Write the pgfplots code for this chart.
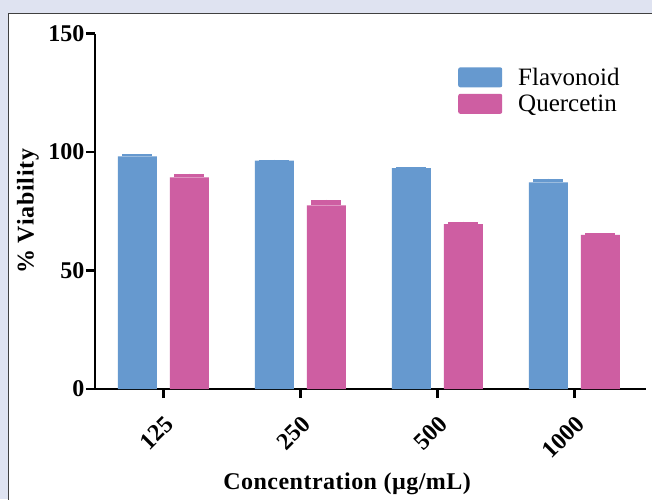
\documentclass[border=0pt]{standalone}
\usepackage{fontspec}
\setmainfont{Liberation Serif}
\usepackage{pgfplots}
\pgfplotsset{compat=1.18}
\definecolor{flav}{RGB}{102,153,207}
\definecolor{quer}{RGB}{206,94,162}
\definecolor{frame}{RGB}{223,227,241}
\begin{document}
\begin{tikzpicture}
\useasboundingbox (0,0) rectangle (652pt,499pt);
\fill[frame] (0,0) rectangle (652pt,499pt);
\begin{scope}
\clip (0,0) rectangle (652pt,499pt);
\filldraw[fill=white, draw=black!75, line width=1pt] (8pt,-10pt) rectangle (670pt,485pt);
\end{scope}
\begin{axis}[
  at={(95pt,110pt)}, anchor=south west,
  scale only axis, width=550.5pt, height=355.5pt,
  xmin=-0.5, xmax=3.52, ymin=0, ymax=150,
  axis x line=bottom, axis y line=left,
  axis line style={-, line width=2.5pt},
  xtick={0,1,2,3}, xticklabels={125,250,500,1000},
  ytick={0,50,100,150},
  tick align=outside, major tick length=9pt,
  tick style={line width=2.5pt, black},
  /pgf/number format/assume math mode=true,
  tick label style={font=\bfseries\fontsize{24}{26}\selectfont},
  y tick label style={xshift=2pt},
  x tick label style={rotate=45, anchor=north east, xshift=-8pt, yshift=-8pt},
  ybar, bar width=39pt,
  ylabel={\% Viability},
  xlabel={Concentration (µg/mL)},
  ylabel style={font=\bfseries\fontsize{24}{26}\selectfont\addfontfeature{LetterSpace=3},
    at={(axis description cs:-0.122,0.5)}, anchor=center},
  xlabel style={font=\bfseries\fontsize{24}{26}\selectfont\addfontfeature{LetterSpace=2},
    at={(axis description cs:0.458,-0.284)}, anchor=base},
  legend style={draw=none, fill=none, at={(axis description cs:0.654,0.915)}, anchor=north west,
    font=\fontsize{25}{27}\selectfont, row sep=4pt},
  legend cell align=left,
  error bars/y dir=plus, error bars/y explicit,
]
\addplot[fill=flav, draw=none, bar shift=-26pt,
  error bars/error bar style={flav, line width=30pt},
  error bars/error mark=none,
  legend image code/.code={\fill[flav, rounded corners=2pt] (0pt,-10pt) rectangle (44pt,10pt);}]
  coordinates {(0,98.2) +- (0,0.8) (1,96.4) +- (0,0.4) (2,93.2) +- (0,0.4) (3,87.2) +- (0,1.6)};
\addlegendentry{\hspace{14pt}Flavonoid}
\addplot[fill=quer, draw=none, bar shift=26pt,
  error bars/error bar style={quer, line width=30pt},
  error bars/error mark=none,
  legend image code/.code={\fill[quer, rounded corners=2pt] (0pt,-10pt) rectangle (44pt,10pt);}]
  coordinates {(0,89.3) +- (0,1.6) (1,77.5) +- (0,2.4) (2,69.6) +- (0,1.0) (3,65.0) +- (0,0.7)};
\addlegendentry{\hspace{14pt}Quercetin}
\end{axis}
\end{tikzpicture}
\end{document}
